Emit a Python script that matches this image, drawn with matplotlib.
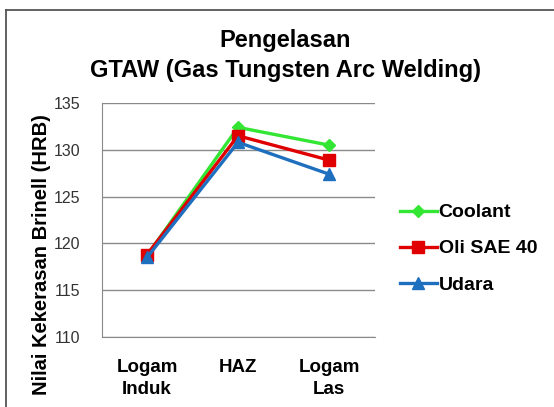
import matplotlib.pyplot as plt
from matplotlib.lines import Line2D

plt.rcParams['font.family'] = ['Liberation Sans', 'DejaVu Sans']

categories = ['Logam\nInduk', 'HAZ', 'Logam\nLas']
coolant = [118.7, 132.4, 130.5]
oli_sae = [118.8, 131.5, 128.9]
udara = [118.5, 130.8, 127.4]

series = [
    ('Coolant', coolant, '#33E633', 'D', 6),
    ('Oli SAE 40', oli_sae, '#E00000', 's', 8),
    ('Udara', udara, '#1F6FBF', '^', 9),
]

fig = plt.figure(figsize=(5.54, 4.07), dpi=100)
# chart border: only the top and left edges fall inside the picture
bx, by = 6 / 554, 1 - 10 / 407
fig.add_artist(Line2D([bx, 1.0], [by, by], transform=fig.transFigure,
                      color='#555555', linewidth=1.3))
fig.add_artist(Line2D([bx, bx], [0.0, by], transform=fig.transFigure,
                      color='#555555', linewidth=1.3))

ax = fig.add_axes([101.5 / 554, 1 - 337 / 407, 273 / 554, 234 / 407])

x = list(range(len(categories)))
for name, vals, col, mk, ms in series:
    ax.plot(x, vals, color=col, marker=mk, markersize=ms, linewidth=2.4,
            label=name, markeredgecolor=col)

ax.set_xlim(-0.5, len(categories) - 0.5)
ax.set_ylim(110, 135)
ax.set_yticks(range(110, 136, 5))
ax.set_xticks(x)
ax.set_xticklabels(categories, fontsize=13.5, fontweight='bold', linespacing=1.35)
ax.tick_params(axis='x', length=0, pad=16)
ax.tick_params(axis='y', length=0, pad=15, labelsize=11.5, labelcolor='#333333')
ax.grid(axis='y', color='#8a8a8a', linewidth=1)
ax.set_axisbelow(True)
for s in ['top', 'right']:
    ax.spines[s].set_visible(False)
for s in ['left', 'bottom']:
    ax.spines[s].set_color('#8a8a8a')

fig.text(42 / 554, 1 - 255 / 407, 'Nilai Kekerasan Brinell (HRB)', rotation=90,
         ha='center', va='center', fontsize=14.5, fontweight='bold')
fig.text(285 / 554, 1 - 40 / 407, 'Pengelasan', ha='center', va='center',
         fontsize=17, fontweight='bold')
fig.text(285 / 554, 1 - 70 / 407, 'GTAW (Gas Tungsten Arc Welding)', ha='center',
         va='center', fontsize=17, fontweight='bold')

leg = fig.legend(loc='upper left', bbox_to_anchor=(392 / 554, 1 - 196 / 407),
                 frameon=False, fontsize=14, handlelength=1.9, handletextpad=0.1,
                 labelspacing=0.95, borderaxespad=0)
for t in leg.get_texts():
    t.set_fontweight('bold')

fig.savefig('out.png', dpi=100)
